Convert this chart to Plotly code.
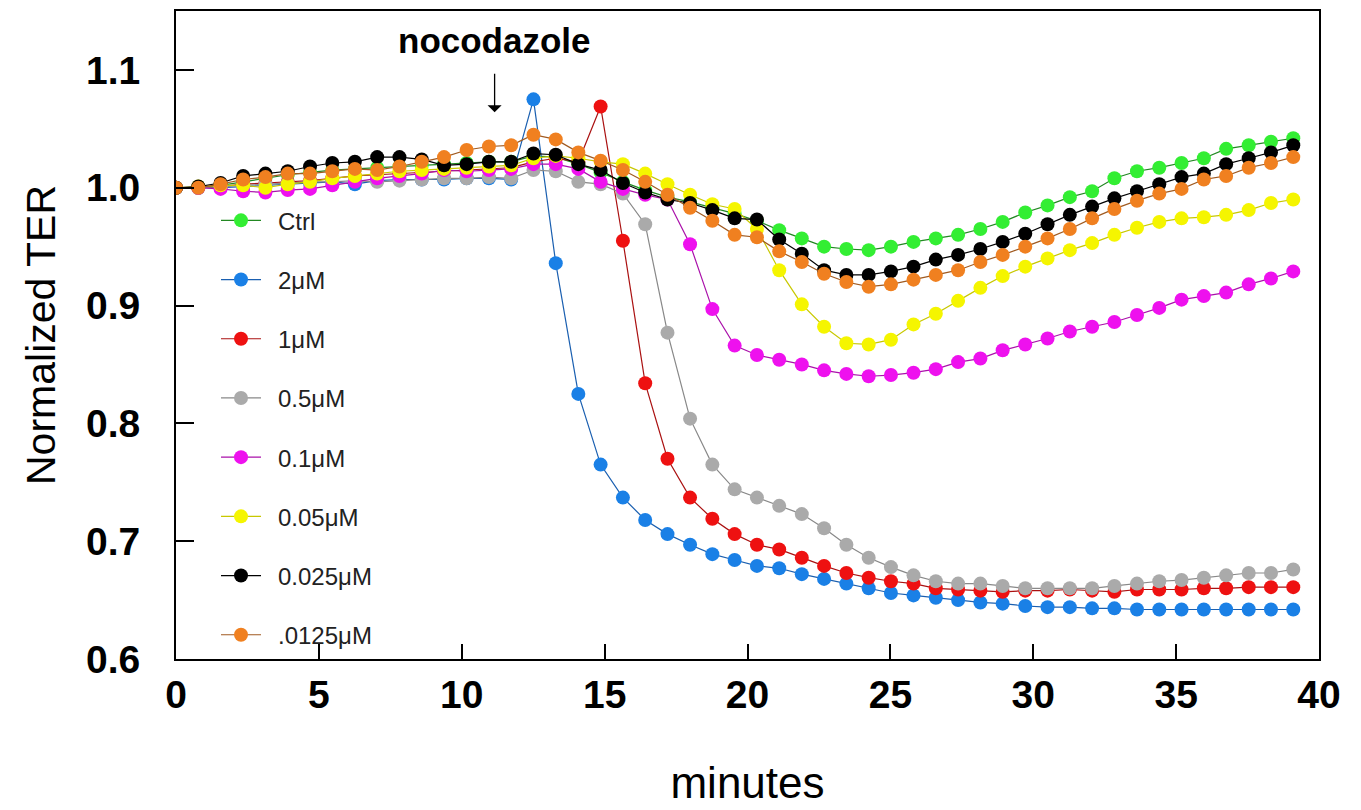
import plotly.graph_objects as go

minutes = [0.00, 0.78, 1.56, 2.35, 3.13, 3.91, 4.69, 5.47, 6.26, 7.04,
           7.82, 8.60, 9.38, 10.17, 10.95, 11.73, 12.51, 13.29, 14.08, 14.86,
           15.64, 16.42, 17.20, 17.99, 18.77, 19.55, 20.33, 21.11, 21.90, 22.68,
           23.46, 24.24, 25.02, 25.81, 26.59, 27.37, 28.15, 28.93, 29.72, 30.50,
           31.28, 32.06, 32.84, 33.63, 34.41, 35.19, 35.97, 36.75, 37.54, 38.32,
           39.10]

ctrl = [1.000, 1.000, 1.002, 1.005, 1.008, 1.011, 1.013, 1.015, 1.016, 1.017,
        1.018, 1.019, 1.020, 1.021, 1.022, 1.022, 1.027, 1.026, 1.020, 1.013,
        1.005, 0.998, 0.992, 0.988, 0.983, 0.978, 0.972, 0.964, 0.957, 0.950,
        0.948, 0.947, 0.950, 0.954, 0.957, 0.960, 0.965, 0.971, 0.979, 0.985,
        0.992, 0.997, 1.008, 1.014, 1.017, 1.021, 1.025, 1.033, 1.036, 1.039,
        1.042]

um2 = [1.000, 1.000, 1.000, 1.001, 1.002, 1.003, 1.004, 1.005, 1.003, 1.006,
       1.007, 1.007, 1.007, 1.008, 1.008, 1.007, 1.075, 0.936, 0.825, 0.765,
       0.737, 0.718, 0.706, 0.697, 0.689, 0.684, 0.679, 0.677, 0.672, 0.668,
       0.664, 0.660, 0.656, 0.654, 0.652, 0.650, 0.648, 0.647, 0.645, 0.644,
       0.644, 0.643, 0.643, 0.642, 0.642, 0.642, 0.642, 0.642, 0.642, 0.642,
       0.642]

um1 = [1.000, 1.000, 1.001, 1.003, 1.004, 1.005, 1.006, 1.008, 1.010, 1.011,
       1.012, 1.013, 1.014, 1.015, 1.016, 1.017, 1.022, 1.025, 1.022, 1.069,
       0.955, 0.834, 0.770, 0.737, 0.719, 0.706, 0.697, 0.693, 0.686, 0.679,
       0.673, 0.669, 0.666, 0.664, 0.660, 0.659, 0.658, 0.657, 0.658, 0.658,
       0.659, 0.658, 0.657, 0.659, 0.659, 0.659, 0.660, 0.660, 0.661, 0.661,
       0.661]

um05 = [1.000, 1.000, 1.001, 1.002, 1.003, 1.004, 1.005, 1.005, 1.006, 1.005,
        1.006, 1.007, 1.008, 1.008, 1.009, 1.008, 1.015, 1.014, 1.005, 1.003,
        0.995, 0.969, 0.877, 0.804, 0.765, 0.744, 0.737, 0.730, 0.723, 0.711,
        0.697, 0.686, 0.678, 0.671, 0.666, 0.664, 0.664, 0.662, 0.660, 0.660,
        0.660, 0.660, 0.662, 0.664, 0.666, 0.667, 0.669, 0.671, 0.673, 0.673,
        0.676]

um01 = [1.000, 1.000, 0.999, 0.997, 0.996, 0.998, 0.999, 1.002, 1.005, 1.008,
        1.010, 1.012, 1.015, 1.014, 1.015, 1.016, 1.020, 1.020, 1.016, 1.005,
        0.999, 0.994, 0.990, 0.952, 0.897, 0.866, 0.858, 0.854, 0.850, 0.845,
        0.842, 0.840, 0.841, 0.843, 0.846, 0.852, 0.855, 0.862, 0.867, 0.872,
        0.878, 0.882, 0.886, 0.892, 0.898, 0.905, 0.908, 0.911, 0.918, 0.923,
        0.929]

um005 = [1.000, 1.001, 1.002, 1.002, 1.000, 1.003, 1.005, 1.008, 1.010, 1.012,
         1.014, 1.015, 1.016, 1.017, 1.018, 1.019, 1.025, 1.027, 1.025, 1.022,
         1.020, 1.012, 1.003, 0.994, 0.986, 0.982, 0.965, 0.930, 0.901, 0.882,
         0.868, 0.867, 0.871, 0.884, 0.893, 0.904, 0.915, 0.925, 0.933, 0.940,
         0.947, 0.953, 0.960, 0.966, 0.971, 0.974, 0.975, 0.977, 0.981, 0.987,
         0.990]

um0025 = [1.000, 1.001, 1.004, 1.010, 1.012, 1.014, 1.018, 1.021, 1.022, 1.026,
          1.026, 1.024, 1.019, 1.020, 1.022, 1.022, 1.029, 1.028, 1.020, 1.015,
          1.004, 0.996, 0.990, 0.987, 0.981, 0.974, 0.973, 0.956, 0.944, 0.930,
          0.926, 0.926, 0.929, 0.933, 0.939, 0.943, 0.948, 0.954, 0.961, 0.969,
          0.977, 0.984, 0.991, 0.997, 1.003, 1.009, 1.012, 1.020, 1.025, 1.030,
          1.036]

um00125 = [1.000, 1.000, 1.003, 1.007, 1.009, 1.012, 1.012, 1.014, 1.016, 1.015,
           1.018, 1.022, 1.026, 1.032, 1.035, 1.036, 1.045, 1.041, 1.030, 1.023,
           1.015, 1.005, 0.994, 0.983, 0.972, 0.960, 0.958, 0.946, 0.937, 0.927,
           0.920, 0.916, 0.918, 0.922, 0.926, 0.930, 0.937, 0.943, 0.950, 0.957,
           0.965, 0.974, 0.982, 0.989, 0.995, 0.999, 1.007, 1.010, 1.017, 1.021,
           1.026]

series_names = ["Ctrl", "2\u03bcM", "1\u03bcM", "0.5\u03bcM", "0.1\u03bcM",
                "0.05\u03bcM", "0.025\u03bcM", ".0125\u03bcM"]
series_values = [ctrl, um2, um1, um05, um01, um005, um0025, um00125]
marker_colors = ["#33ee33", "#1a80e6", "#ee1111", "#aaaaaa", "#ee11ee",
                 "#f5f500", "#000000", "#f08020"]
line_colors = ["#228822", "#1a5fb0", "#aa1111", "#888888", "#aa11aa",
               "#c8c800", "#000000", "#a05a20"]

x_ticks = [0, 5, 10, 15, 20, 25, 30, 35, 40]
y_ticks = [0.6, 0.7, 0.8, 0.9, 1.0, 1.1]

fig = go.Figure()
for i, (name, vals) in enumerate(zip(series_names, series_values)):
    fig.add_trace(go.Scatter(
        x=minutes, y=vals, name="\u2002" + name, mode="lines+markers",
        legendgroup=f"g{i}",
        line=dict(color=line_colors[i], width=1.2),
        marker=dict(color=marker_colors[i], size=14, line=dict(width=0)),
    ))

font_family = "Liberation Sans, Arial, sans-serif"

fig.update_layout(
    width=1361, height=810,
    margin=dict(l=168, r=50, t=1, b=159),
    paper_bgcolor="white", plot_bgcolor="white",
    font=dict(family=font_family, color="black"),
    showlegend=True,
    legend=dict(
        x=0.035, y=0.711, xanchor="left", yanchor="top",
        bgcolor="rgba(0,0,0,0)",
        font=dict(size=24, family=font_family, color="#222222"),
        tracegroupgap=25, itemwidth=40,
    ),
    xaxis=dict(
        range=[0, 40], tickvals=x_ticks, ticktext=[str(v) for v in x_ticks],
        showline=True, linecolor="black", linewidth=2, mirror=True,
        ticks="inside", ticklen=15, tickwidth=2, tickcolor="black",
        showgrid=False, zeroline=False,
        tickfont=dict(size=39, family=font_family, weight="bold"),
        title=dict(text="minutes", font=dict(size=44), standoff=52),
    ),
    yaxis=dict(
        range=[0.6, 1.15], tickvals=y_ticks, ticktext=[f"{v:.1f}" for v in y_ticks],
        showline=True, linecolor="black", linewidth=2, mirror=True,
        ticks="inside", ticklen=18, tickwidth=2, tickcolor="black",
        showgrid=False, zeroline=False,
        tickfont=dict(size=39, family=font_family, weight="bold"),
        ticklabelstandoff=26,
        title=dict(text="Normalized TER", font=dict(size=41), standoff=18),
    ),
    annotations=[
        dict(x=11.15, y=1.064, xref="x", yref="y", text="",
             showarrow=True, ax=11.15, ay=1.098, axref="x", ayref="y",
             arrowhead=1, arrowsize=1.8, arrowwidth=1.3, arrowcolor="black"),
        dict(x=11.15, y=1.125, xref="x", yref="y", text="<b>nocodazole</b>",
             showarrow=False, font=dict(size=35, family=font_family, color="black")),
    ],
)

fig.write_html("out.html")
